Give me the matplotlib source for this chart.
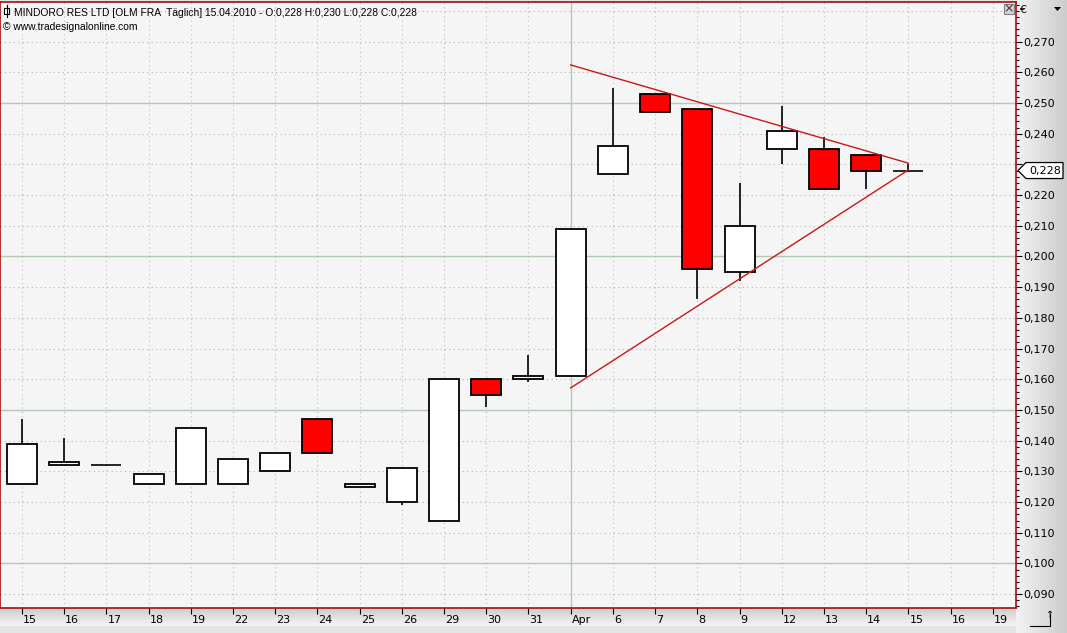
import numpy as np
import matplotlib
matplotlib.use("Agg")
import matplotlib.pyplot as plt
import matplotlib.transforms as mtrans
from matplotlib.patches import Polygon, Rectangle
from matplotlib.ticker import FixedLocator, MultipleLocator, FuncFormatter

# trading days (x axis labels); last two are empty future days
days = ['15', '16', '17', '18', '19', '22', '23', '24', '25', '26', '29', '30', '31',
        'Apr', '6', '7', '8', '9', '12', '13', '14', '15', '16', '19']

# daily OHLC, 15.03.2010 - 15.04.2010
opens  = [0.126, 0.132, 0.132, 0.126, 0.126, 0.126, 0.130, 0.147, 0.125, 0.120, 0.114, 0.160, 0.160,
          0.161, 0.227, 0.253, 0.248, 0.195, 0.235, 0.235, 0.233, 0.228]
highs  = [0.147, 0.141, 0.132, 0.129, 0.144, 0.134, 0.136, 0.147, 0.126, 0.131, 0.160, 0.160, 0.168,
          0.209, 0.255, 0.253, 0.248, 0.224, 0.249, 0.239, 0.233, 0.230]
lows   = [0.126, 0.132, 0.132, 0.126, 0.126, 0.126, 0.130, 0.136, 0.125, 0.119, 0.114, 0.151, 0.159,
          0.161, 0.227, 0.247, 0.186, 0.192, 0.230, 0.222, 0.222, 0.228]
closes = [0.139, 0.133, 0.132, 0.129, 0.144, 0.134, 0.136, 0.136, 0.126, 0.131, 0.160, 0.155, 0.161,
          0.209, 0.236, 0.247, 0.196, 0.210, 0.241, 0.222, 0.228, 0.228]

# price scale labels
price_ticks = [0.09, 0.10, 0.11, 0.12, 0.13, 0.14, 0.15, 0.16, 0.17, 0.18,
               0.19, 0.20, 0.21, 0.22, 0.23, 0.24, 0.25, 0.26, 0.27]

# triangle trend lines (start day index, end day index, values)
trend_x = [13, 21]
upper_trend = [0.2624, 0.2304]
lower_trend = [0.1572, 0.2282]
last_price = 0.228

W, H = 1067, 633
fig = plt.figure(figsize=(W / 100, H / 100), dpi=100)
fig.patch.set_facecolor('#e4e4e4')

# grey gradient panels (right scale and bottom scale)
bg = fig.add_axes([0, 0, 1, 1], zorder=-10)
bg.axis('off')
grad_r = np.linspace(0.95, 0.80, 60)[None, :]
bg.imshow(np.repeat(grad_r, 2, axis=0), cmap='gray', vmin=0, vmax=1, aspect='auto',
          extent=[1016 / W, 1.0, 0, 1], transform=bg.transAxes)
grad_b = np.linspace(0.80, 0.96, 30)[:, None]
bg.imshow(np.repeat(grad_b, 2, axis=1), cmap='gray', vmin=0, vmax=1, aspect='auto',
          extent=[0, 1016 / W, 7 / H, 25 / H], transform=bg.transAxes)
bg.set_xlim(0, 1)
bg.set_ylim(0, 1)

ax = fig.add_axes([0, 25 / H, 1016 / W, 606 / H])
ax.set_facecolor('#f5f5f5')
for s in ax.spines.values():
    s.set_color('#a01010')
    s.set_linewidth(1.2)

ylo, yhi = 0.0855, 0.2829
ax.set_xlim(-0.52, 23.55)
ax.set_ylim(ylo, yhi)

# grids
for yv in np.arange(0.09, 0.281, 0.01):
    if round(yv * 100) % 5 == 0:
        ax.axhline(yv, color='#b4c8b4', lw=1, zorder=0)
    else:
        ax.axhline(yv, color='#b4b4b4', lw=0.8, ls=(0, (1, 3)), zorder=0)
for i in range(len(days)):
    if days[i] == 'Apr':
        ax.axvline(i, color='#b4c8b4', lw=1, zorder=0)
    else:
        ax.axvline(i, color='#bcbcbc', lw=0.8, ls=(0, (1, 3)), zorder=0)

# candles
bw = 0.71
for i in range(len(opens)):
    o, h, l, c = opens[i], highs[i], lows[i], closes[i]
    up = c >= o
    top, bot = max(o, c), min(o, c)
    ax.vlines(i, l, h, color='black', lw=1.2, zorder=2)
    if abs(c - o) < 0.0004:
        ax.hlines(c, i - bw / 2, i + bw / 2, color='black', lw=1.2, zorder=3)
    else:
        ax.bar(i, top - bot, bottom=bot, width=bw, color='white' if up else '#ff0000',
               edgecolor='black', linewidth=1.3, zorder=3)

ax.plot(trend_x, upper_trend, color='#c81818', lw=1, zorder=4)
ax.plot(trend_x, lower_trend, color='#c81818', lw=1, zorder=4)

# x axis
ax.set_xticks(range(len(days)))
ax.set_xticklabels(days, ha='left', fontsize=8, family='DejaVu Sans')
ax.tick_params(axis='x', direction='out', length=4, width=0.8, pad=1, colors='black')
offset = mtrans.ScaledTranslation(1 / 100, 0, fig.dpi_scale_trans)
for lbl in ax.get_xticklabels():
    lbl.set_transform(lbl.get_transform() + offset)

# right price scale (0,230 sits under the last price marker)
ax.yaxis.tick_right()
ax.yaxis.set_major_locator(FixedLocator(price_ticks))
ax.yaxis.set_minor_locator(MultipleLocator(0.002))


def fmt(v, p):
    if abs(v - last_price) < 0.004:
        return ''
    return ('%.3f' % v).replace('.', ',')


ax.yaxis.set_major_formatter(FuncFormatter(fmt))
ax.tick_params(axis='y', which='major', direction='out', length=4, width=0.8, pad=1,
               labelsize=8, colors='black')
ax.tick_params(axis='y', which='minor', direction='out', length=2, width=0.8, colors='black')

# last price marker on the scale
tr = ax.get_yaxis_transform()
px = 1 / 1016
py = (yhi - ylo) / 606
mk = Polygon([(1 + 2 * px, last_price), (1 + 10 * px, last_price + 8 * py),
              (1 + 47 * px, last_price + 8 * py), (1 + 47 * px, last_price - 8 * py),
              (1 + 10 * px, last_price - 8 * py)], closed=True, transform=tr,
             facecolor='white', edgecolor='black', lw=0.9, clip_on=False, zorder=10)
ax.add_patch(mk)
ax.text(1 + 29 * px, last_price, ('%.3f' % last_price).replace('.', ','), transform=tr,
        ha='center', va='center', fontsize=8, clip_on=False, zorder=11)

# header text
ax.text(14 / 1016, 1 - 11 / 606,
        'MINDORO RES LTD [OLM FRA  T\u00e4glich] 15.04.2010 - O:0,228 H:0,230 L:0,228 C:0,228',
        transform=ax.transAxes, fontsize=7.4, family='Liberation Sans', va='center', ha='left')
ax.text(3 / 1016, 1 - 25 / 606, '\u00a9 www.tradesignalonline.com',
        transform=ax.transAxes, fontsize=7.4, family='Liberation Sans', va='center', ha='left')
# small candle icon
fig.add_artist(Rectangle((4 / W, 1 - 14 / H), 5 / W, 6 / H, facecolor='white',
                         edgecolor='black', lw=0.8))
fig.add_artist(plt.Line2D([6.5 / W, 6.5 / W], [1 - 17 / H, 1 - 5 / H], color='black', lw=0.8))

# close box and currency sign
fig.add_artist(Rectangle((1004 / W, 1 - 14 / H), 10 / W, 10 / H, facecolor='#d4d4d4',
                         edgecolor='#808080', lw=0.8))
fig.text(1009 / W, 1 - 9 / H, '\u00d7', fontsize=9, ha='center', va='center', color='#333333')
fig.text(1019 / W, 1 - 10 / H, '\u20ac', fontsize=8, ha='left', va='center')
fig.add_artist(Polygon([(1054 / W, 1 - 7 / H), (1061 / W, 1 - 7 / H), (1057.5 / W, 1 - 11 / H)],
                       closed=True, facecolor='black', edgecolor='none'))

# corner arrow icon
fig.add_artist(plt.Line2D([1030 / W, 1050 / W, 1050 / W], [1 - 626 / H, 1 - 626 / H, 1 - 614 / H],
                          color='black', lw=0.8))
fig.text(1050 / W, 1 - 615 / H, '\u2191', fontsize=7, ha='center', va='center')

fig.savefig('out.png', dpi=100, facecolor=fig.get_facecolor())
